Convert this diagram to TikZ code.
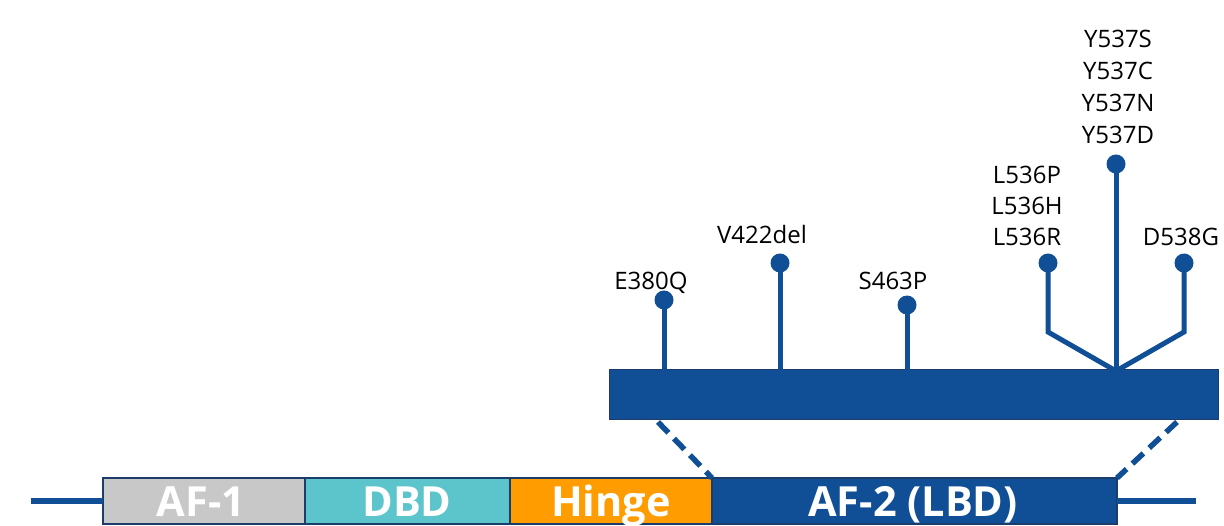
\documentclass[tikz,border=0pt]{standalone}
\usepackage{fontspec}
\setmainfont{Open Sans}
\definecolor{navy}{HTML}{104E96}
\definecolor{edge}{HTML}{1C3C6C}
\definecolor{af1c}{HTML}{C8C8C8}
\definecolor{dbdc}{HTML}{5BC5CB}
\definecolor{hingec}{HTML}{FF9C00}
\begin{document}
\begin{tikzpicture}[x=1pt,y=-1pt,
  dombox/.style={draw=edge, line width=1.5pt, anchor=north west, minimum height=46pt, inner sep=0pt, outer sep=0pt},
  domtext/.style={anchor=base, text=white, font=\fontsize{41.5}{41.5}\selectfont\bfseries, inner sep=0pt},
  mut/.style={anchor=base, text=black, font=\fontsize{24}{30}\selectfont, inner sep=0pt},
  lolli/.style={circle, fill=navy, minimum size=19pt, inner sep=0pt},
  stem/.style={draw=navy, line width=5pt},
  dashline/.style={draw=navy, line width=5.5pt, dash pattern=on 15pt off 8pt},
  tether/.style={draw=navy, line width=6pt}]
\useasboundingbox (0,0) rectangle (1224,526);
\clip (0,0) rectangle (1224,526);

% domain bar
\node[dombox, fill=af1c, minimum width=202pt] (af1) at (103,478) {};
\node[dombox, fill=dbdc, minimum width=205pt] (dbd) at (305,478) {};
\node[dombox, fill=hingec, minimum width=202pt] (hinge) at (510,478) {};
\node[dombox, fill=navy, minimum width=405pt] (af2) at (712,478) {};
\node[domtext] (t1) at (201,516.5) {AF-1};
\node[domtext] (t2) at (407,516.5) {DBD};
\node[domtext] (t3) at (611,516.5) {Hinge};
\node[domtext] (t4) at (913,516.5) {AF-2 (LBD)};
\coordinate (lend) at (31,501);
\coordinate (rend) at (1196,501);
\draw[tether] (lend) -- (lend -| af1.west);
\draw[tether] (rend -| af2.east) -- (rend);

% zoomed LBD bar
\node[draw=edge, line width=1pt, fill=navy, anchor=north west, minimum width=609pt, minimum height=50pt, inner sep=0pt, outer sep=0pt] (lbd) at (609,370) {};
\coordinate (dl1) at (658,422);
\coordinate (dl2) at (712,478);
\coordinate (dr1) at (1177,422);
\coordinate (dr2) at (1117,478);
\draw[dashline] (dl1) -- (dl2);
\draw[dashline] (dr1) -- (dr2);

% lollipops
\node[lolli] (d380) at (664,300) {};
\node[lolli] (d422) at (780,263) {};
\node[lolli] (d463) at (907,305) {};
\node[lolli] (d536) at (1048,263) {};
\node[lolli] (d537) at (1116,164) {};
\node[lolli] (d538) at (1184,263) {};
\coordinate (b380) at (664,371);
\coordinate (b422) at (780,371);
\coordinate (b463) at (907,371);
\coordinate (b537) at (1116,371);
\coordinate (k536) at (1048,332);
\coordinate (k538) at (1184,332);
\draw[stem] (b380) -- (d380.center);
\draw[stem] (b422) -- (d422.center);
\draw[stem] (b463) -- (d463.center);
\draw[stem] (b537) -- (d537.center);
\draw[stem, line join=miter] (b537) -- (k536) -- (d536.center);
\draw[stem, line join=miter] (b537) -- (k538) -- (d538.center);

% labels
\node[mut] (m380) at (651,290) {E380Q};
\node[mut] (m422) at (762,244) {V422del};
\node[mut] (m463) at (893,290) {S463P};
\node[mut] (m536a) at (1027,184) {L536P};
\node[mut] (m536b) at (1027,215) {L536H};
\node[mut] (m536c) at (1027,246) {L536R};
\node[mut] (m537a) at (1118,48) {Y537S};
\node[mut] (m537b) at (1118,80) {Y537C};
\node[mut] (m537c) at (1118,112) {Y537N};
\node[mut] (m537d) at (1118,144) {Y537D};
\node[mut] (m538) at (1181,246) {D538G};
\end{tikzpicture}
\end{document}
